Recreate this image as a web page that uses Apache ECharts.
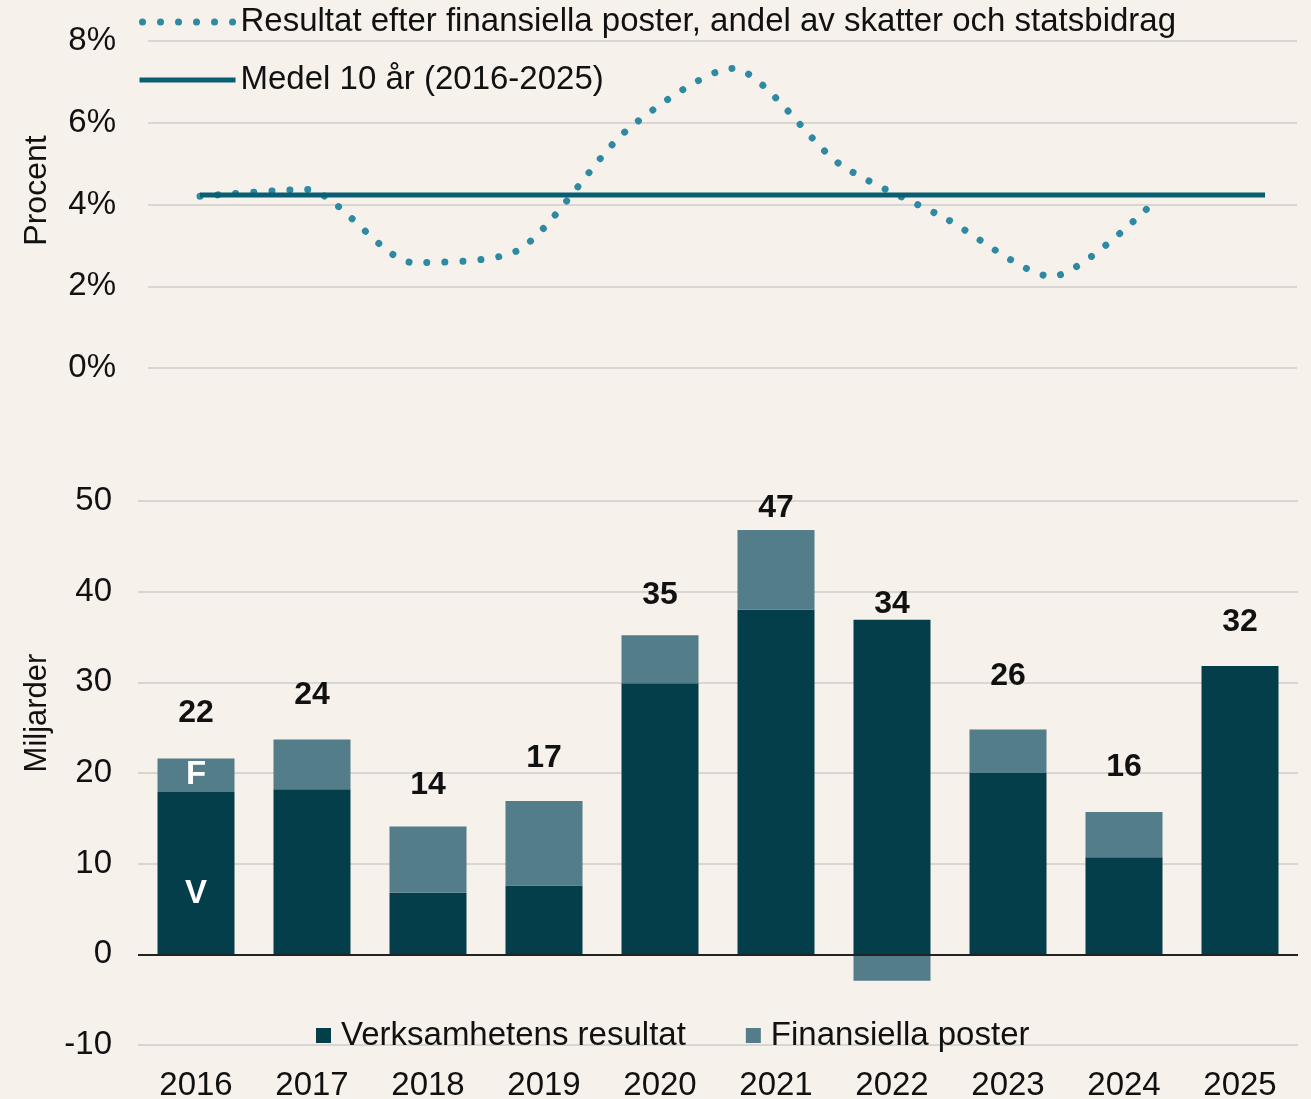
<!DOCTYPE html>
<html>
<head>
<meta charset="utf-8">
<script src="https://cdn.jsdelivr.net/npm/echarts@6/dist/echarts.min.js"></script>
<style>
  html, body { margin: 0; padding: 0; background: #f6f1eb; }
  #chart { width: 1311px; height: 1099px; }
</style>
</head>
<body>
<div id="chart"></div>
<script>
// värden avlästa ur originalbilden
const years = ['2016', '2017', '2018', '2019', '2020', '2021', '2022', '2023', '2024', '2025'];
const andelResultat = [4.2, 4.37, 2.58, 2.9, 5.8, 7.33, 5.0, 3.66, 2.24, 4.17];
const medel10 = [4.23, 4.23, 4.23, 4.23, 4.23, 4.23, 4.23, 4.23, 4.23, 4.23, 4.23];
const verksamhet = [17.9, 18.2, 6.8, 7.6, 29.9, 38.0, 36.9, 20.0, 10.7, 31.8];
const finansiella = [3.7, 5.5, 7.3, 9.3, 5.3, 8.8, -2.9, 4.8, 5.0, 0];
const resultat = [22, 24, 14, 17, 35, 47, 34, 26, 16, 32];

const font = 'Liberation Sans';
const dark = '#033e4a';
const light = '#547d8a';
const dotColor = '#2e89a3';
const meanColor = '#085f71';
const gridColor = '#d9d5d0';
const dotDash = [0.01, 18];

const chart = echarts.init(document.getElementById('chart'));

chart.setOption({
  backgroundColor: '#f6f1eb',
  textStyle: { fontFamily: font, color: '#111' },
  animation: false,
  legend: [
    {
      orient: 'vertical',
      left: 136,
      top: 4,
      padding: 0,
      itemWidth: 96,
      itemHeight: 14,
      itemGap: 22,
      itemStyle: { opacity: 0 },
      data: [
        {
          name: 'Resultat efter finansiella poster, andel av skatter och statsbidrag',
          lineStyle: { color: dotColor, width: 7, type: dotDash, cap: 'round', dashOffset: -3 }
        },
        {
          name: 'Medel 10 år (2016-2025)',
          lineStyle: { color: meanColor, width: 5 }
        }
      ],
      textStyle: { fontSize: 33, color: '#111', fontFamily: font, lineHeight: 36, padding: [0, 0, 0, 0] }
    },
    {
      left: 316,
      top: 1019,
      padding: 0,
      icon: 'rect',
      itemWidth: 15,
      itemHeight: 15,
      itemGap: 60,
      data: ['Verksamhetens resultat', 'Finansiella poster'],
      textStyle: { fontSize: 33, color: '#111', fontFamily: font, padding: [0, 0, 0, 5] }
    }
  ],
  grid: [
    { left: 148, right: 14, top: 41, bottom: 1099 - 368, outerBoundsMode: 'none' },
    { left: 138, right: 13, top: 501, bottom: 1099 - 1045, outerBoundsMode: 'none' }
  ],
  xAxis: [
    { gridIndex: 0, type: 'value', min: -0.488, max: 10.3, show: false },
    {
      gridIndex: 1,
      type: 'category',
      data: years,
      boundaryGap: true,
      axisLine: { show: false, onZero: false },
      axisTick: { show: false },
      axisLabel: { fontSize: 33, color: '#111', margin: 24, fontFamily: font }
    }
  ],
  yAxis: [
    {
      gridIndex: 0,
      type: 'value',
      min: 0,
      max: 8,
      interval: 2,
      name: 'Procent',
      nameLocation: 'middle',
      nameRotate: 90,
      nameGap: 95,
      nameTextStyle: { fontSize: 32, color: '#111', fontFamily: font, padding: [0, 0, 0, 28] },
      axisLabel: { fontSize: 33, color: '#111', margin: 32, formatter: '{value}%' },
      splitLine: { lineStyle: { color: gridColor, width: 2 } },
      axisLine: { show: false },
      axisTick: { show: false }
    },
    {
      gridIndex: 1,
      type: 'value',
      min: -10,
      max: 50,
      interval: 10,
      name: 'Miljarder',
      nameLocation: 'middle',
      nameRotate: 90,
      nameGap: 78,
      nameTextStyle: { fontSize: 31, color: '#111', fontFamily: font, padding: [0, 0, 0, 120] },
      axisLabel: { fontSize: 33, color: '#111', margin: 26 },
      splitLine: { lineStyle: { color: gridColor, width: 2 } },
      axisLine: { show: false },
      axisTick: { show: false }
    }
  ],
  series: [
    {
      name: 'Resultat efter finansiella poster, andel av skatter och statsbidrag',
      type: 'line',
      xAxisIndex: 0,
      yAxisIndex: 0,
      smooth: 0.25,
      symbol: 'none',
      data: andelResultat.map((v, i) => [i, v]),
      itemStyle: { color: dotColor },
      lineStyle: { color: dotColor, width: 7, type: dotDash, cap: 'round' },
      z: 3
    },
    {
      name: 'Medel 10 år (2016-2025)',
      type: 'line',
      xAxisIndex: 0,
      yAxisIndex: 0,
      symbol: 'none',
      data: medel10.map((v, i) => [i, v]),
      itemStyle: { color: meanColor },
      lineStyle: { color: meanColor, width: 5 },
      z: 4
    },
    {
      name: 'Verksamhetens resultat',
      type: 'bar',
      xAxisIndex: 1,
      yAxisIndex: 1,
      stack: 'res',
      barWidth: 77,
      itemStyle: { color: dark },
      data: verksamhet.map((v, i) => i === 0
        ? { value: v, label: { show: true, formatter: 'V', position: 'inside', offset: [0, 21], color: '#fff', fontWeight: 'bold', fontSize: 33 } }
        : v),
      markLine: {
        silent: true,
        symbol: 'none',
        label: { show: false },
        lineStyle: { color: '#222', width: 2, type: 'solid' },
        data: [{ yAxis: 0 }]
      }
    },
    {
      name: 'Finansiella poster',
      type: 'bar',
      xAxisIndex: 1,
      yAxisIndex: 1,
      stack: 'res',
      barWidth: 77,
      itemStyle: { color: light },
      data: finansiella.map((v, i) => i === 0
        ? { value: v, label: { show: true, formatter: 'F', position: 'inside', color: '#fff', fontWeight: 'bold', fontSize: 33 } }
        : v)
    },
    {
      name: 'Resultat',
      type: 'scatter',
      xAxisIndex: 1,
      yAxisIndex: 1,
      symbolSize: 0,
      silent: true,
      itemStyle: { opacity: 1 },
      data: resultat.map((v, i) => i === 5
        ? { value: v, label: { distance: 4 } }
        : v),
      label: {
        show: true,
        position: 'top',
        distance: 26,
        fontSize: 32,
        fontWeight: 'bold',
        color: '#111',
        fontFamily: font
      }
    }
  ]
});
</script>
</body>
</html>
